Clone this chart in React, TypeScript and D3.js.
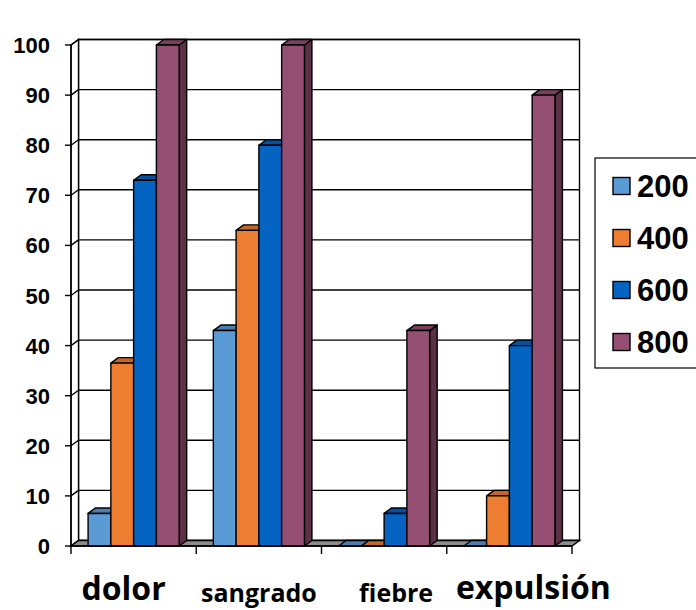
import React from "react";
import * as d3 from "d3";

const categories = ["dolor", "sangrado", "fiebre", "expulsión"];
const seriesNames = ["200", "400", "600", "800"];
const values200 = [6.5, 43, 0, 0];
const values400 = [36.5, 63, 0, 10];
const values600 = [73, 80, 6.5, 40];
const values800 = [100, 100, 43, 90];
const yTicks = [0, 10, 20, 30, 40, 50, 60, 70, 80, 90, 100];

const seriesValues = [values200, values400, values600, values800];
const colors = ["#5B9BD5", "#ED7D31", "#0563C1", "#954F72"];

// layout of category labels (offset from band centre, size, baseline)
const labelLayout = [
  { dx: -10, size: 32, base: 600 },
  { dx: 0, size: 25, base: 602 },
  { dx: 12, size: 25, base: 602 },
  { dx: 24, size: 32, base: 599 },
];

const W = 696;
const H = 610;
const X0 = 71;
const X1 = 572;
const DX = 7.5;
const DY = -5.5;

export default function App() {
  const y = d3.scaleLinear().domain([0, 100]).range([546, 45]);
  const x = d3.scaleBand<string>().domain(categories).range([X0, X1]).paddingInner(0).paddingOuter(0);
  const bw = x.bandwidth();
  const gap = bw - (bw / 5.5) * 4;
  const xs = d3.scaleBand<string>().domain(seriesNames).range([gap / 2, bw - gap / 2]).padding(0);
  const w = xs.bandwidth();
  const y0 = y(0);
  const yTop = y(100);

  const poly = (pts: [number, number][]) => pts.map((p) => p.join(",")).join(" ");

  const bars: React.ReactNode[] = [];
  categories.forEach((c, ci) => {
    seriesNames.forEach((s, si) => {
      const v = seriesValues[si][ci];
      const bx = (x(c) as number) + (xs(s) as number);
      const by = y(v);
      const col = colors[si];
      const top = d3.color(col)!.darker(0.55).formatHex();
      const side = d3.color(col)!.darker(1.35).formatHex();
      bars.push(
        <g key={c + s} stroke="#000" strokeWidth={1.4} strokeLinejoin="round">
          <polygon
            points={poly([
              [bx + w, by],
              [bx + w + DX, by + DY],
              [bx + w + DX, y0 + DY],
              [bx + w, y0],
            ])}
            fill={side}
          />
          <polygon
            points={poly([
              [bx, by],
              [bx + DX, by + DY],
              [bx + w + DX, by + DY],
              [bx + w, by],
            ])}
            fill={top}
          />
          {v > 0 && <rect x={bx} y={by} width={w} height={y0 - by} fill={col} />}
        </g>
      );
    });
  });

  return (
    <svg
      width={W}
      height={H}
      style={{ position: "absolute", left: 0, top: 0, background: "#fff" }}
      fontFamily="'Liberation Sans', Arial, sans-serif"
    >
      {/* back wall */}
      <rect x={X0 + DX} y={yTop + DY} width={X1 - X0} height={y0 - yTop} fill="#fff" stroke="#000" strokeWidth={1.4} />
      {/* left wall */}
      <polygon
        points={poly([
          [X0, yTop],
          [X0 + DX, yTop + DY],
          [X0 + DX, y0 + DY],
          [X0, y0],
        ])}
        fill="#fff"
        stroke="#000"
        strokeWidth={1.4}
      />
      {/* gridlines */}
      {yTicks.map((t) => (
        <g key={t} stroke="#000" strokeWidth={1.4}>
          <line x1={X0 + DX} x2={X1 + DX} y1={y(t) + DY} y2={y(t) + DY} />
          <line x1={X0} x2={X0 + DX} y1={y(t)} y2={y(t) + DY} />
          <line x1={X0 - 6} x2={X0} y1={y(t)} y2={y(t)} />
        </g>
      ))}
      {/* floor */}
      <polygon
        points={poly([
          [X0, y0],
          [X0 + DX, y0 + DY],
          [X1 + DX, y0 + DY],
          [X1, y0],
        ])}
        fill="#8c8c8c"
        stroke="#000"
        strokeWidth={1.4}
      />
      {bars}
      {/* front axes */}
      <line x1={X0} x2={X0} y1={yTop} y2={y0} stroke="#000" strokeWidth={1.4} />
      <line x1={X0} x2={X1} y1={y0} y2={y0} stroke="#000" strokeWidth={1.6} />
      {[...categories.map((c) => x(c) as number), X1].map((tx, i) => (
        <line key={i} x1={tx} x2={tx} y1={y0} y2={y0 + 8} stroke="#000" strokeWidth={1.4} />
      ))}
      {/* y tick labels */}
      {yTicks.map((t) => (
        <text key={t} x={50} y={y(t) + 8} textAnchor="end" fontSize={22} fontWeight="bold" fill="#000">
          {t}
        </text>
      ))}
      {/* category labels */}
      {categories.map((c, i) => (
        <text
          key={c}
          x={(x(c) as number) + bw / 2 + labelLayout[i].dx}
          y={labelLayout[i].base}
          textAnchor="middle"
          fontFamily="'Open Sans', sans-serif"
          fontWeight="bold"
          fontSize={labelLayout[i].size}
          fill="#000"
        >
          {c}
        </text>
      ))}
      {/* legend */}
      <rect x={595} y={158} width={120} height={210} fill="#fff" stroke="#000" strokeWidth={1.2} />
      {seriesNames.map((s, i) => {
        const cy = 186 + i * 52;
        return (
          <g key={s}>
            <rect x={613} y={cy - 8.5} width={17} height={17} fill={colors[i]} stroke="#000" strokeWidth={1.4} />
            <text x={637} y={cy} dy="0.36em" fontSize={31} fontWeight="bold" fill="#000">
              {s}
            </text>
          </g>
        );
      })}
    </svg>
  );
}
